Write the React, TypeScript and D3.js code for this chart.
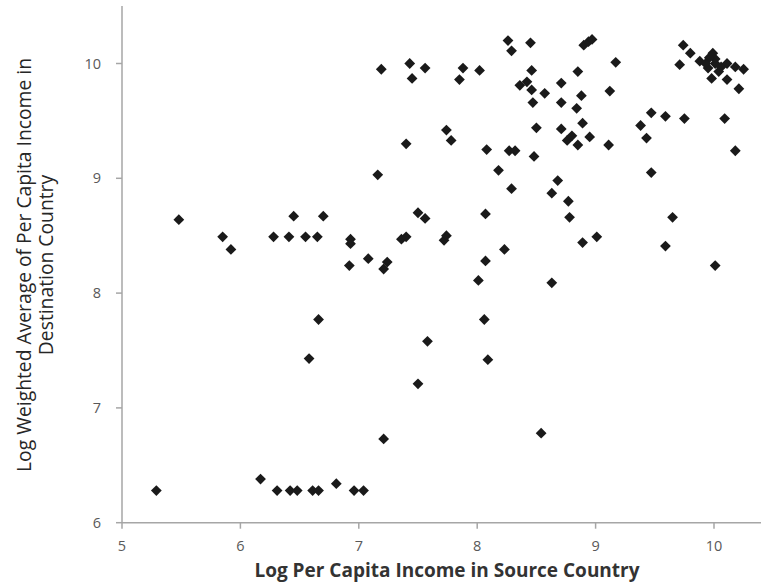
import React from "react";
import * as d3 from "d3";

const xValues = [
  5.29, 5.48, 5.85, 5.92, 6.17, 6.28, 6.31, 6.41, 6.42, 6.45, 6.48, 6.55, 6.58, 6.61, 6.65, 6.66, 6.66, 6.70, 6.81, 6.93,
  6.93, 6.92, 6.96, 7.04, 7.08, 7.16, 7.19, 7.21, 7.21, 7.24, 7.36, 7.40, 7.40, 7.43, 7.45, 7.50, 7.50, 7.56, 7.56, 7.58,
  7.72, 7.74, 7.74, 7.78, 7.85, 7.88, 8.01, 8.02, 8.06, 8.07, 8.07, 8.08, 8.09, 8.18, 8.23, 8.26, 8.27, 8.29, 8.29, 8.32,
  8.36, 8.42, 8.45, 8.46, 8.46, 8.47, 8.48, 8.50, 8.54, 8.57, 8.63, 8.63, 8.68, 8.71, 8.71, 8.71, 8.76, 8.77, 8.78, 8.80,
  8.84, 8.85, 8.85, 8.88, 8.89, 8.89, 8.90, 8.94, 8.97, 8.95, 9.01, 9.11, 9.12, 9.17, 9.38, 9.43, 9.47, 9.47, 9.59, 9.59,
  9.65, 9.71, 9.74, 9.75, 9.80, 9.88, 9.95, 9.98, 9.99, 10.01, 10.01, 10.01, 10.04, 10.09, 10.11, 10.11, 10.18, 10.18, 10.21, 10.25,
  9.96, 10.06, 9.93,
];
const yValues = [
  6.28, 8.64, 8.49, 8.38, 6.38, 8.49, 6.28, 8.49, 6.28, 8.67, 6.28, 8.49, 7.43, 6.28, 8.49, 6.28, 7.77, 8.67, 6.34, 8.47,
  8.43, 8.24, 6.28, 6.28, 8.30, 9.03, 9.95, 6.73, 8.21, 8.27, 8.47, 8.49, 9.30, 10.00, 9.87, 8.70, 7.21, 8.65, 9.96, 7.58,
  8.46, 8.50, 9.42, 9.33, 9.86, 9.96, 8.11, 9.94, 7.77, 8.28, 8.69, 9.25, 7.42, 9.07, 8.38, 10.20, 9.24, 10.11, 8.91, 9.24,
  9.81, 9.84, 10.18, 9.94, 9.77, 9.66, 9.19, 9.44, 6.78, 9.74, 8.87, 8.09, 8.98, 9.83, 9.66, 9.43, 9.33, 8.80, 8.66, 9.37,
  9.61, 9.29, 9.93, 9.72, 9.48, 8.44, 10.16, 10.19, 10.21, 9.36, 8.49, 9.29, 9.76, 10.01, 9.46, 9.35, 9.57, 9.05, 9.54, 8.41,
  8.66, 9.99, 10.16, 9.52, 10.09, 10.02, 9.96, 9.87, 10.09, 10.00, 10.04, 8.24, 9.93, 9.52, 10.00, 9.86, 9.97, 9.24, 9.78, 9.95,
  10.05, 9.97, 10.00,
];
const xTicks = [5, 6, 7, 8, 9, 10];
const yTicks = [6, 7, 8, 9, 10];
const xTitle = "Log Per Capita Income in Source Country";
const yTitleLines = ["Log Weighted Average of Per Capita Income in", "Destination Country"];

const W = 761;
const H = 588;

export default function App() {
  const x = d3.scaleLinear().domain([5, 10.5]).range([122, 122 + 5.5 * 118.4]);
  const y = d3.scaleLinear().domain([6, 10.5]).range([522.7, 522.7 - 4.5 * 114.8]);
  const diamond = d3.symbol().type(d3.symbolSquare).size(58)() as string;
  const axisColor = "#a6a6a6";
  const labelColor = "#595959";
  const font = "'Open Sans', sans-serif";
  const points = xValues.map((v, i) => ({ x: v, y: yValues[i] }));
  const y0 = y(6);
  const x0 = x(5);
  const yMid = 265;
  return (
    <svg width={W} height={H} style={{ position: "absolute", left: 0, top: 0, background: "#fff" }}>
      <rect x={0} y={0} width={W} height={H} fill="#fff" />
      {/* axes */}
      <line x1={x0} x2={x0} y1={y(10.5)} y2={y0} stroke={axisColor} strokeWidth={1.5} />
      <line x1={x0} x2={W} y1={y0} y2={y0} stroke={axisColor} strokeWidth={1.5} />
      {yTicks.map((t) => (
        <g key={"y" + t}>
          <line x1={x0 - 6} x2={x0} y1={y(t)} y2={y(t)} stroke={axisColor} strokeWidth={1.5} />
          <text x={101} y={y(t)} dy="0.35em" textAnchor="end" fontFamily={font} fontSize={14.5} fill={labelColor}>
            {t}
          </text>
        </g>
      ))}
      {xTicks.map((t) => (
        <g key={"x" + t}>
          <line x1={x(t)} x2={x(t)} y1={y0} y2={y0 + 6} stroke={axisColor} strokeWidth={1.5} />
          <text x={x(t)} y={546} dy="0.35em" textAnchor="middle" fontFamily={font} fontSize={14.5} fill={labelColor}>
            {t}
          </text>
        </g>
      ))}
      {/* points */}
      {points.map((p, i) => (
        <path
          key={i}
          d={diamond}
          transform={`translate(${x(p.x)},${y(p.y)}) rotate(45)`}
          fill="#1a1a1a"
        />
      ))}
      {/* titles */}
      <text
        x={447}
        y={577}
        textAnchor="middle"
        fontFamily={font}
        fontWeight="bold"
        fontSize={19}
        fill="#333333"
      >
        {xTitle}
      </text>
      <g transform={`translate(0,${yMid}) rotate(-90)`}>
        {yTitleLines.map((l, i) => (
          <text
            key={i}
            x={0}
            y={31 + i * 21.5}
            textAnchor="middle"
            fontFamily={font}
            fontSize={19.3}
            fill="#262626"
          >
            {l}
          </text>
        ))}
      </g>
    </svg>
  );
}
